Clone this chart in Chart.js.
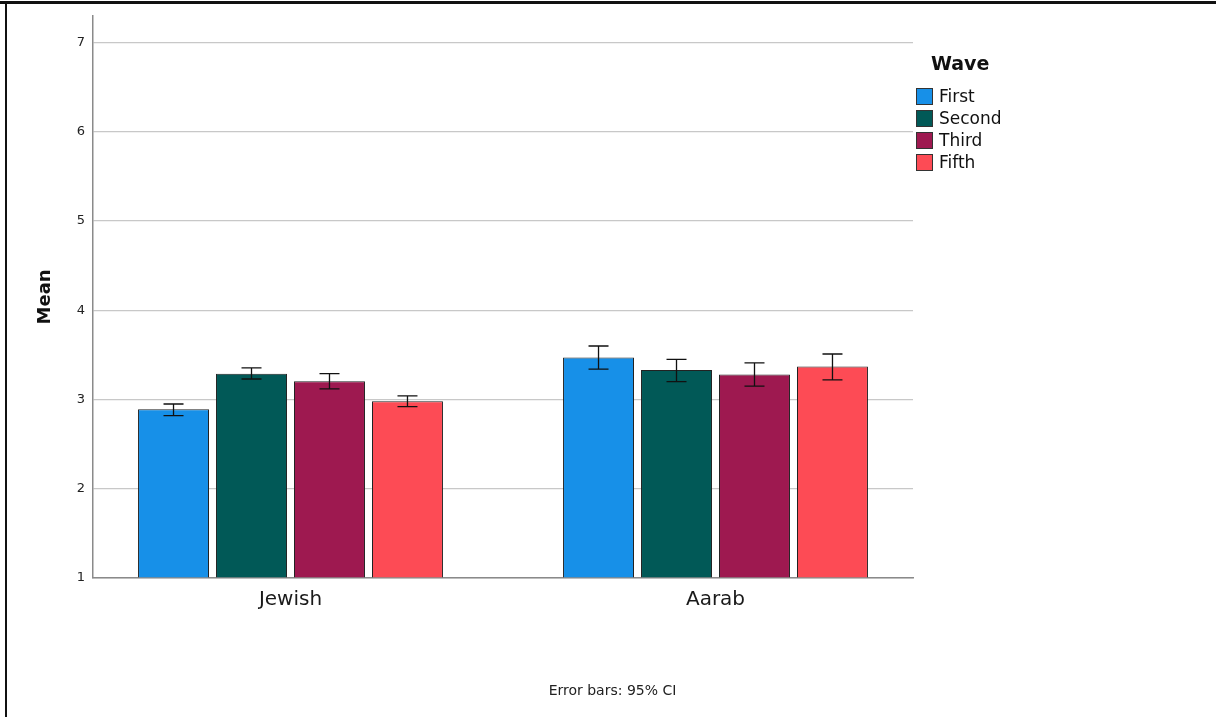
<!DOCTYPE html>
<html>
<head>
<meta charset="utf-8">
<script src="https://cdn.jsdelivr.net/npm/chart.js@4/dist/chart.umd.min.js"></script>
<style>
  html, body { margin: 0; padding: 0; background: #fff; }
  #wrap { position: relative; width: 1216px; height: 717px; overflow: hidden; }
  #c { position: absolute; left: 0; top: 0; }
  .frameTop { position: absolute; left: 0; top: 1px; width: 1216px; height: 3px; background: #111; }
  .frameLeft { position: absolute; left: 5px; top: 1px; width: 2px; height: 716px; background: #111; }
  #legend { position: absolute; left: 916px; top: 48px; font-family: "DejaVu Sans", sans-serif; color: #111; }
  #legend .ttl { font-weight: bold; font-size: 19px; margin-left: 15px; height: 37px; line-height: 30px; }
  #legend .item { display: flex; align-items: center; height: 22px; font-size: 17px; }
  #legend .sw { width: 15px; height: 15px; border: 1px solid #333; margin-right: 6px; box-sizing: content-box; }
  #note { position: absolute; left: 0; width: 1225px; top: 680px; text-align: center; font-family: "DejaVu Sans", sans-serif; font-size: 14px; color: #222; line-height: 20px; }
</style>
</head>
<body>
<div id="wrap">
  <canvas id="c" width="1216" height="717"></canvas>
  <div class="frameTop"></div>
  <div class="frameLeft"></div>
  <div id="legend"></div>
  <div id="note">Error bars: 95% CI</div>
</div>
<script>
// ---- data ----
const categories = ['Jewish', 'Aarab'];
const waves = ['First', 'Second', 'Third', 'Fifth'];
const waveColors = ['#1790e8', '#015957', '#9e1950', '#fd4b55'];

const firstMeans  = [2.89, 3.47];
const secondMeans = [3.29, 3.33];
const thirdMeans  = [3.205, 3.28];
const fifthMeans  = [2.98, 3.37];

const firstCiLow   = [2.82, 3.34];
const firstCiHigh  = [2.95, 3.60];
const secondCiLow  = [3.23, 3.20];
const secondCiHigh = [3.355, 3.45];
const thirdCiLow   = [3.12, 3.15];
const thirdCiHigh  = [3.29, 3.41];
const fifthCiLow   = [2.92, 3.22];
const fifthCiHigh  = [3.04, 3.51];

const yTicks = [1, 2, 3, 4, 5, 6, 7];

const meansByWave = [firstMeans, secondMeans, thirdMeans, fifthMeans];
const ciLowByWave = [firstCiLow, secondCiLow, thirdCiLow, fifthCiLow];
const ciHighByWave = [firstCiHigh, secondCiHigh, thirdCiHigh, fifthCiHigh];

const FONT = '"DejaVu Sans", sans-serif';

const datasets = waves.map((w, k) => ({
  label: w,
  data: meansByWave[k].map((v, i) => ({ x: i, y: v })),
  backgroundColor: waveColors[k],
  borderColor: '#222',
  borderWidth: 1,
  base: 1,
  barPercentage: 0.91,
  categoryPercentage: 0.734,
  ciLow: ciLowByWave[k],
  ciHigh: ciHighByWave[k]
}));

const errorBars = {
  id: 'errorBars',
  afterDatasetsDraw(chart) {
    const ctx = chart.ctx;
    const y = chart.scales.y;
    ctx.save();
    ctx.strokeStyle = '#111';
    ctx.lineWidth = 1.3;
    chart.data.datasets.forEach((ds, di) => {
      const meta = chart.getDatasetMeta(di);
      meta.data.forEach((bar, i) => {
        const x = bar.x;
        const yl = y.getPixelForValue(ds.ciLow[i]);
        const yh = y.getPixelForValue(ds.ciHigh[i]);
        const cap = 10;
        ctx.beginPath();
        ctx.moveTo(x, yl); ctx.lineTo(x, yh);
        ctx.moveTo(x - cap, yl); ctx.lineTo(x + cap, yl);
        ctx.moveTo(x - cap, yh); ctx.lineTo(x + cap, yh);
        ctx.stroke();
      });
    });
    ctx.restore();
  }
};

const chart = new Chart(document.getElementById('c'), {
  type: 'bar',
  data: { datasets },
  plugins: [errorBars],
  options: {
    responsive: false,
    animation: false,
    layout: { padding: { left: 0, right: 303, top: 14, bottom: 0 } },
    plugins: {
      legend: { display: false },
      tooltip: { enabled: false },
      title: { display: false }
    },
    scales: {
      x: {
        type: 'linear',
        offset: false,
        min: -0.4647,
        max: 1.4647,
        grid: { display: false, drawTicks: false, offset: false },
        border: { display: true, color: '#8a8a8a', width: 1.5 },
        afterBuildTicks(scale) { scale.ticks = categories.map((c, i) => ({ value: i })); },
        afterFit(scale) { scale.height = 139; },
        ticks: {
          padding: 10,
          color: '#1a1a1a',
          font: { family: FONT, size: 20 },
          callback: (v) => categories[v]
        }
      },
      y: {
        type: 'linear',
        min: 1,
        max: 7.3,
        afterBuildTicks(scale) { scale.ticks = yTicks.map(v => ({ value: v })); },
        afterFit(scale) { scale.width = 93; },
        grid: { color: '#c8c8c8', lineWidth: 1.2, drawTicks: false },
        border: { display: true, color: '#8a8a8a', width: 1.5 },
        ticks: {
          padding: 8,
          color: '#222',
          font: { family: FONT, size: 13 }
        },
        title: {
          display: true,
          text: 'Mean',
          color: '#111',
          font: { family: FONT, size: 18, weight: 'bold', lineHeight: 1.2 },
          padding: { top: 34.2, bottom: 0 }
        }
      }
    }
  }
});

// HTML legend built from the chart's datasets
const legend = document.getElementById('legend');
const t = document.createElement('div');
t.className = 'ttl';
t.textContent = 'Wave';
legend.appendChild(t);
chart.data.datasets.forEach(ds => {
  const row = document.createElement('div');
  row.className = 'item';
  const sw = document.createElement('div');
  sw.className = 'sw';
  sw.style.background = ds.backgroundColor;
  const lab = document.createElement('span');
  lab.textContent = ds.label;
  row.appendChild(sw);
  row.appendChild(lab);
  legend.appendChild(row);
});
</script>
</body>
</html>
